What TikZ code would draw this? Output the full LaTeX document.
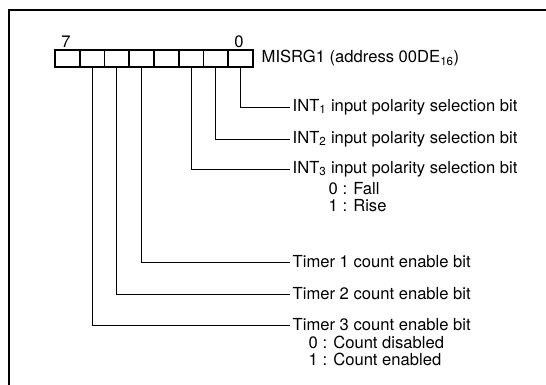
\documentclass[tikz,border=0pt]{standalone}
\usepackage{fontspec}
\setmainfont{TeX Gyre Heros}
\begin{document}
\begin{tikzpicture}[x=1pt,y=-1pt,
  bitbox/.style={draw,line width=1.8pt,minimum width=24.75pt,minimum height=17pt,inner sep=0pt,outer sep=0pt},
  lbl/.style={anchor=west,inner sep=2.5pt,font=\fontsize{16.6}{18}\selectfont},
  num/.style={inner sep=0pt,font=\fontsize{16.6}{18}\selectfont},
  conn/.style={line width=0.8pt}]
\useasboundingbox (0,0) rectangle (546,385);
\draw[line width=2pt] (9,385) -- (9,10) -- (546,10);
% register bits b7 ... b0
\foreach \i in {0,...,7}{
  \node[bitbox] (b\i) at ({240.6-24.75*\i},58.5) {};
}
\node[num] (n7) at (66,42) {7};
\node[num] (n0) at (239,42) {0};
\node[lbl] (reg) at (259,58.5) {MISRG1 (address 00DE\textsubscript{16})};
% INT labels
\node[lbl] (int1) at (290,107) {INT\textsubscript{1} input polarity selection bit};
\node[lbl] (int2) at (290,139) {INT\textsubscript{2} input polarity selection bit};
\node[lbl] (int3) at (290,169) {INT\textsubscript{3} input polarity selection bit};
\node[lbl] (fall) at (326,189) {0 : Fall};
\node[lbl] (rise) at (326,206) {1 : Rise};
% timer labels
\node[lbl] (t1) at (290,262) {Timer 1 count enable bit};
\node[lbl] (t2) at (290,294) {Timer 2 count enable bit};
\node[lbl] (t3) at (290,325) {Timer 3 count enable bit};
\node[lbl] (cd) at (306,342) {0 : Count disabled};
\node[lbl] (ce) at (306,359) {1 : Count enabled};
% connectors
\draw[conn] (b0.south) |- (int1.west);
\draw[conn] (b1.south) |- (int2.west);
\draw[conn] (b2.south) |- (int3.west);
\draw[conn] (b4.south) |- (t1.west);
\draw[conn] (b5.south) |- (t2.west);
\draw[conn] (b6.south) |- (t3.west);
\end{tikzpicture}
\end{document}
